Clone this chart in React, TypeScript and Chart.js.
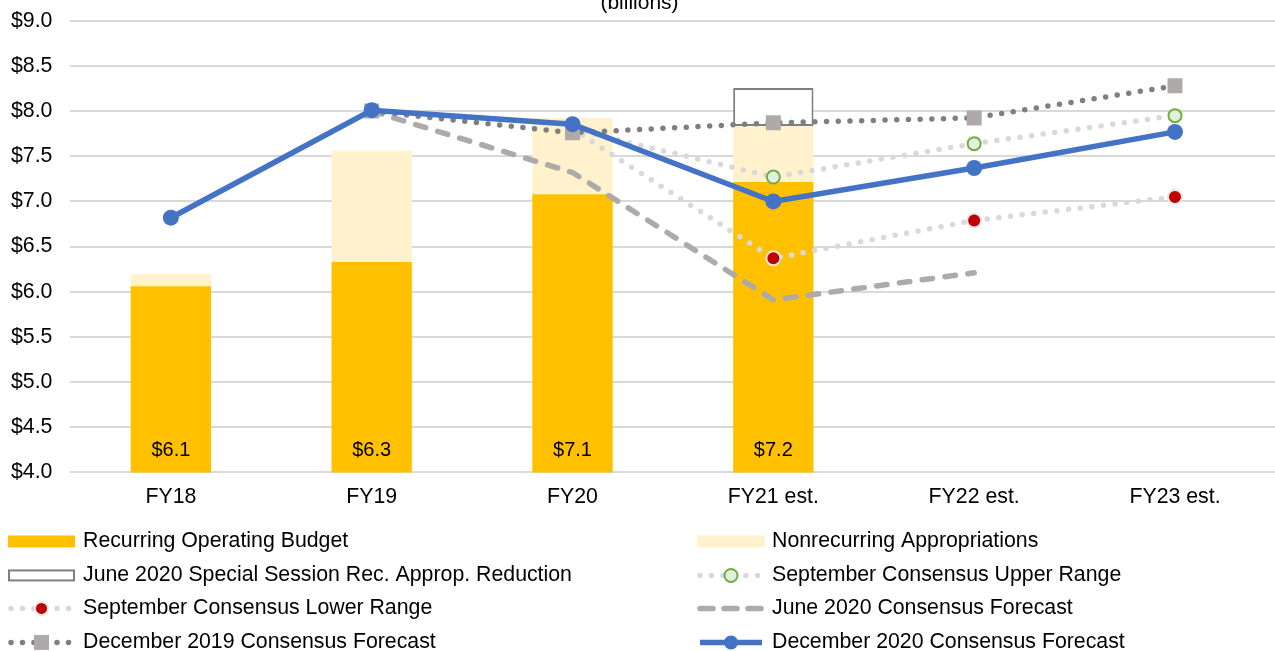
import React, { useEffect, useRef } from "react";
import { Chart, registerables } from "chart.js";

Chart.register(...registerables);

const categories = ["FY18", "FY19", "FY20", "FY21 est.", "FY22 est.", "FY23 est."];
const recurring = [6.06, 6.33, 7.08, 7.215, null, null];
const nonrecurring = [0.135, 1.23, 0.845, 0.62, null, null];
const reduction = [null, null, null, 0.42, null, null];
const sepUpper = [null, null, 7.8, 7.27, 7.64, 7.95];
const sepLower = [null, null, 7.8, 6.37, 6.79, 7.05];
const june2020 = [null, 8.0, 7.32, 5.91, 6.21, null];
const dec2019 = [null, 8.0, 7.76, 7.87, 7.925, 8.28];
const dec2020 = [6.82, 8.01, 7.855, 7.0, 7.37, 7.77];
const yMin = 4;
const yMax = 9;
const yStep = 0.5;
const titleText = "(billions)";

const FONT = "'Liberation Sans', Arial, sans-serif";
const OFFSET_X = 7;

const barLabelPlugin = {
  id: "barLabels",
  afterDatasetsDraw(chart: any) {
    const meta = chart.getDatasetMeta(chart.data.datasets.findIndex((d: any) => d.label === "Recurring Operating Budget"));
    const ctx = chart.ctx;
    ctx.save();
    ctx.font = `20px ${FONT}`;
    ctx.fillStyle = "#000";
    ctx.textAlign = "center";
    ctx.textBaseline = "middle";
    meta.data.forEach((el: any, i: number) => {
      const v = recurring[i];
      if (v == null) return;
      ctx.fillText("$" + v.toFixed(1), el.x, chart.chartArea.bottom - 22);
    });
    ctx.restore();
  },
};

const legendOrder = [
  "Recurring Operating Budget",
  "Nonrecurring Appropriations",
  "June 2020 Special Session Rec. Approp. Reduction",
  "September Consensus Upper Range",
  "September Consensus Lower Range",
  "June 2020 Consensus Forecast",
  "December 2019 Consensus Forecast",
  "December 2020 Consensus Forecast",
];

const customLegend = {
  id: "customLegend",
  afterDraw(chart: any) {
    const ctx = chart.ctx;
    const base = chart.chartArea.bottom;
    const rowOffsets = [69, 103, 136, 170];
    const cols = [
      { x0: 8 + OFFSET_X, x1: 75 + OFFSET_X, tx: 83 + OFFSET_X },
      { x0: 697 + OFFSET_X, x1: 765 + OFFSET_X, tx: 772 + OFFSET_X },
    ];
    legendOrder.forEach((label, idx) => {
      const ds = chart.data.datasets.find((d: any) => d.label === label);
      if (!ds) return;
      const col = cols[idx % 2];
      const y = base + rowOffsets[Math.floor(idx / 2)];
      ctx.save();
      if (ds.type === "bar") {
        const h = 12;
        if (ds.legendOutline) {
          ctx.fillStyle = "#fff";
          ctx.fillRect(col.x0, y - h / 2, col.x1 - col.x0, h);
          ctx.strokeStyle = ds.borderColor;
          ctx.lineWidth = 2;
          ctx.strokeRect(col.x0 + 1, y - h / 2 + 1, col.x1 - col.x0 - 2, h - 2);
        } else {
          ctx.fillStyle = ds.backgroundColor;
          ctx.fillRect(col.x0, y - h / 2, col.x1 - col.x0, h);
        }
      } else {
        ctx.strokeStyle = ds.borderColor;
        ctx.lineWidth = ds.borderWidth;
        ctx.lineCap = ds.borderCapStyle || "butt";
        ctx.setLineDash(ds.legendDash || ds.borderDash || []);
        ctx.beginPath();
        ctx.moveTo(col.x0 + 3, y);
        ctx.lineTo(col.x1 - 3, y);
        ctx.stroke();
        ctx.setLineDash([]);
        if (ds.legendPoint) {
          const p = ds.legendPoint;
          ctx.fillStyle = p.bg;
          ctx.strokeStyle = p.border;
          ctx.lineWidth = p.borderWidth;
          ctx.beginPath();
          const cx = (col.x0 + col.x1) / 2;
          if (p.style === "rect") {
            const s = p.radius * Math.SQRT1_2;
            ctx.rect(cx - s, y - s, 2 * s, 2 * s);
            ctx.fill();
          } else {
            ctx.arc(cx, y, p.radius, 0, Math.PI * 2);
            ctx.fill();
            if (p.borderWidth > 0) ctx.stroke();
          }
        }
      }
      ctx.fillStyle = "#000";
      ctx.font = `21.3px ${FONT}`;
      ctx.textAlign = "left";
      ctx.textBaseline = "middle";
      ctx.fillText(label, col.tx, y);
      ctx.restore();
    });
  },
};

export default function App() {
  const canvasRef = useRef<HTMLCanvasElement | null>(null);

  useEffect(() => {
    document.body.style.margin = "0";
    const canvas = canvasRef.current;
    if (!canvas) return;

    const dotted = [0, 11.7];
    const dashed = [10.5, 12.5];
    const chart = new Chart(canvas, {
      type: "bar",
      data: {
        labels: categories,
        datasets: [
          {
            type: "line",
            label: "December 2020 Consensus Forecast",
            data: dec2020,
            borderColor: "#4472C4",
            backgroundColor: "#4472C4",
            borderWidth: 5.5,
            pointRadius: 8,
            pointBackgroundColor: "#4472C4",
            pointBorderWidth: 0,
            stack: "l1",
            legendPoint: { style: "circle", radius: 7, bg: "#4472C4", border: "#4472C4", borderWidth: 0 },
          } as any,
          {
            type: "line",
            label: "December 2019 Consensus Forecast",
            data: dec2019,
            borderColor: "#7F7F7F",
            borderWidth: 5.5,
            borderDash: dotted,
            borderCapStyle: "round",
            pointStyle: "rect",
            pointRadius: 10.6,
            pointBackgroundColor: "#AEAAAA",
            pointBorderWidth: 0,
            stack: "l2",
            legendDash: [0, 11.5],
            legendPoint: { style: "rect", radius: 10.6, bg: "#AEAAAA", border: "#AEAAAA", borderWidth: 0 },
          } as any,
          {
            type: "line",
            label: "September Consensus Upper Range",
            data: sepUpper,
            borderColor: "#D9D9D9",
            borderWidth: 5.5,
            borderDash: dotted,
            borderCapStyle: "round",
            pointRadius: [0, 0, 0, 6.5, 6.5, 6.5],
            pointBackgroundColor: "#E2EFDA",
            pointBorderColor: "#70AD47",
            pointBorderWidth: 2,
            stack: "l3",
            legendDash: [0, 11.5],
            legendPoint: { style: "circle", radius: 6.5, bg: "#E2EFDA", border: "#70AD47", borderWidth: 2 },
          } as any,
          {
            type: "line",
            label: "September Consensus Lower Range",
            data: sepLower,
            borderColor: "#D9D9D9",
            borderWidth: 5.5,
            borderDash: dotted,
            borderCapStyle: "round",
            pointRadius: [0, 0, 0, 7, 7, 7],
            pointBackgroundColor: "#C00000",
            pointBorderColor: "#E7E6E6",
            pointBorderWidth: 2,
            stack: "l4",
            legendDash: [0, 11.5],
            legendPoint: { style: "circle", radius: 6.5, bg: "#C00000", border: "#E7E6E6", borderWidth: 2 },
          } as any,
          {
            type: "line",
            label: "June 2020 Consensus Forecast",
            data: june2020,
            borderColor: "#AEAAAA",
            borderWidth: 5.5,
            borderDash: dashed,
            borderCapStyle: "round",
            pointRadius: 0,
            stack: "l5",
            legendDash: [13, 11],
          } as any,
          {
            type: "bar",
            label: "Recurring Operating Budget",
            data: recurring,
            backgroundColor: "#FFC000",
            borderWidth: 0,
            stack: "bars",
          } as any,
          {
            type: "bar",
            label: "Nonrecurring Appropriations",
            data: nonrecurring,
            backgroundColor: "#FFF2CC",
            borderWidth: 0,
            stack: "bars",
          } as any,
          {
            type: "bar",
            label: "June 2020 Special Session Rec. Approp. Reduction",
            data: reduction,
            backgroundColor: "#FFFFFF",
            borderColor: "#7F7F7F",
            borderWidth: 2,
            borderSkipped: false,
            stack: "bars",
            legendOutline: true,
          } as any,
        ],
      },
      options: {
        responsive: false,
        animation: false,
        devicePixelRatio: 1,
        layout: { padding: { left: 0, right: 0, top: 0, bottom: 129 } },
        datasets: {
          bar: { barPercentage: 0.4, categoryPercentage: 1 },
        },
        plugins: {
          legend: { display: false },
          tooltip: { enabled: false },
          title: {
            display: true,
            text: titleText,
            color: "#000",
            font: { family: FONT, size: 21, weight: "normal" },
            padding: { top: 0, bottom: 5 },
          },
        },
        scales: {
          x: {
            stacked: true,
            grid: { display: false, drawTicks: false },
            border: { display: false },
            ticks: {
              color: "#000",
              font: { family: FONT, size: 21.3 },
              padding: 12,
            },
          },
          y: {
            stacked: true,
            min: yMin,
            max: yMax,
            grid: { color: "#D9D9D9", lineWidth: 2, drawTicks: false },
            border: { display: false },
            ticks: {
              stepSize: yStep,
              color: "#000",
              padding: 18,
              font: { family: FONT, size: 21.3 },
              callback: (v: any) => "$" + Number(v).toFixed(1),
            },
          },
        },
      },
      plugins: [barLabelPlugin, customLegend],
    });

    return () => chart.destroy();
  }, []);

  return (
    <div style={{ width: 1275, height: 651, overflow: "hidden", position: "relative" }}>
      <canvas
        ref={canvasRef}
        width={1293}
        height={661}
        style={{ position: "absolute", top: -10, left: -OFFSET_X, width: 1293, height: 661 }}
      />
    </div>
  );
}
